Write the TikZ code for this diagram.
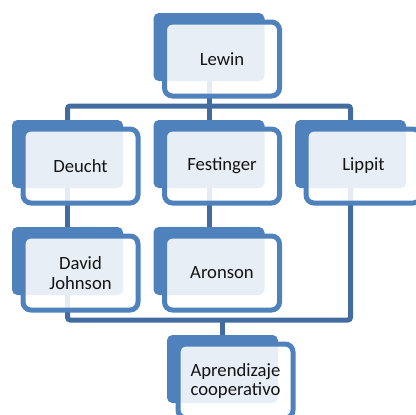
\documentclass[tikz,border=0pt]{standalone}
\usepackage{fontspec}
\setmainfont{Carlito}
\usetikzlibrary{backgrounds}

\definecolor{boxblue}{RGB}{79,129,189}
\definecolor{linkblue}{RGB}{66,108,160}

\tikzset{
  backbox/.style={fill=boxblue, rounded corners=4pt, inner sep=0pt,
    minimum width=83.25pt, minimum height=51pt},
  frontbox/.style={draw=boxblue, line width=3.75pt, fill=white, fill opacity=0.87,
    text opacity=1, rounded corners=6pt, inner sep=0pt, align=center,
    minimum width=86.25pt, minimum height=55.5pt, text=black!92,
    font=\fontsize{14}{14.6}\selectfont},
  link/.style={draw=linkblue, line width=3.75pt, rounded corners=2pt}
}

\begin{document}
\begin{tikzpicture}[x=0.75pt, y=-0.75pt]
\useasboundingbox (0,0) rectangle (416,414);
\clip (0,0) rectangle (416,414);

% back boxes
\node[backbox] (lewin) at (209,47) {};
\node[backbox] (deucht) at (67.5,154) {};
\node[backbox] (festinger) at (209,154) {};
\node[backbox] (lippit) at (350.5,154) {};
\node[backbox] (david) at (67.5,261) {};
\node[backbox] (aronson) at (209,261) {};
\node[backbox] (aprendizaje) at (222.5,369) {};

% front boxes
\node[frontbox] (lewinf) at ([shift={(13,12)}]lewin.center) {Lewin};
\node[frontbox] (deuchtf) at ([shift={(13,12)}]deucht.center) {Deucht};
\node[frontbox] (festingerf) at ([shift={(13,12)}]festinger.center) {Festinger};
\node[frontbox] (lippitf) at ([shift={(13,12)}]lippit.center) {Lippit};
\node[frontbox] (davidf) at ([shift={(13,12)}]david.center) {David\\Johnson};
\node[frontbox] (aronsonf) at ([shift={(13,12)}]aronson.center) {Aronson};
\node[frontbox] (aprendizajef) at ([shift={(13,12)}]aprendizaje.center) {Aprendizaje\\cooperativo};

\coordinate (topbar) at (0,106);
\coordinate (bottombar) at (0,320);

\begin{scope}[on background layer]
\draw[link] (lewin.center) -- (lewin |- topbar);
\draw[link] (deucht.center) |- (topbar -| lippit) -- (lippit.center);
\draw[link] (festinger.center) -- (festinger |- topbar);
\draw[link] (deucht.center) -- (david.center);
\draw[link] (festinger.center) -- (aronson.center);
\draw[link] (david.center) |- (bottombar -| lippit) -- (lippit.center);
\draw[link] (aprendizaje.center) -- (aprendizaje |- bottombar);
\end{scope}

\end{tikzpicture}
\end{document}
